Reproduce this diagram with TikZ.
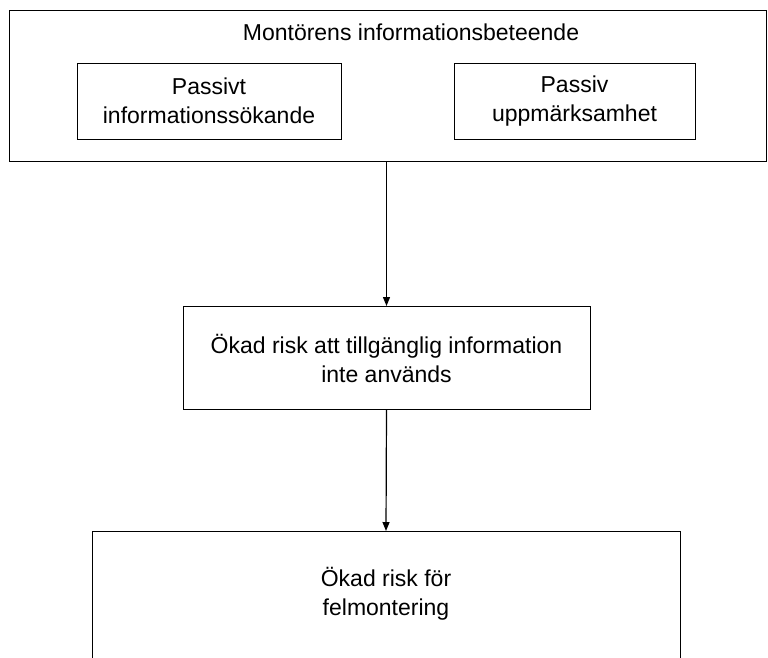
\documentclass[tikz,border=0pt]{standalone}
\usepackage{fontspec}
\setmainfont{Liberation Sans}
\usetikzlibrary{arrows.meta}
\begin{document}
\begin{tikzpicture}[x=1pt,y=-1pt,
  box/.style={draw=black, line width=1pt, inner sep=0pt, align=center,
    font=\fontsize{23}{29}\selectfont},
  lbl/.style={inner sep=0pt, align=center, font=\fontsize{23}{29}\selectfont},
  flow/.style={-{Triangle[length=9pt,width=7pt]}, line width=1.2pt}]
\useasboundingbox (0,0) rectangle (768,657);
\clip (0,0) rectangle (768,657);

% outer frame with its heading and the two behaviour boxes
\node[box, minimum width=757pt, minimum height=151pt] (top) at (388,86) {};
\node[lbl] (title) at (411,32) {Montörens informationsbeteende};
\node[box, minimum width=264pt, minimum height=76pt] (seek) at (209,101)
  {Passivt\\informationssökande};
\node[box, minimum width=241pt, minimum height=76pt] (aware) at (574.5,101)
  {Passiv\\uppmärksamhet};

% consequence boxes
\node[box, minimum width=407pt, minimum height=103pt] (mid) at (386.5,358)
  {Ökad risk att tillgänglig information\\inte används};
\node[box, anchor=north, minimum width=588pt, minimum height=200pt] (bot) at (386,531) {};
\node[lbl] (bottxt) at (386,593.5) {Ökad risk för\\felmontering};

% flow arrows
\draw[flow] (top.south -| mid.north) -- (mid.north);
\draw[flow] (mid.south) -- (bot.north);
\end{tikzpicture}
\end{document}
